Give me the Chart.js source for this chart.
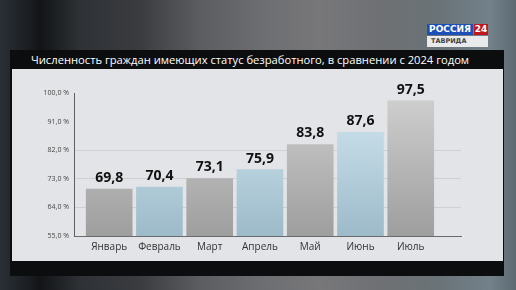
<!DOCTYPE html>
<html>
<head>
<meta charset="utf-8">
<script src="https://cdn.jsdelivr.net/npm/chart.js@4"></script>
<style>
  html, body { margin: 0; padding: 0; }
  body {
    width: 516px; height: 290px; position: relative; overflow: hidden;
    background:
      linear-gradient(90deg, #2a3036 0px, #1a1d21 30px, #121416 40px, #2e3135 80px, #3a3c40 140px, #5b5d61 200px, #6c6d70 260px, #77777a 320px, #6e7073 380px, #6a7378 440px, #73818a 490px, #5d6a72 516px);
    font-family: "Open Sans", sans-serif;
  }
  .frame { position: absolute; left: 10px; top: 50px; width: 494px; height: 226px; background: #0c0d0e; }
  .title { position: absolute; left: 31px; top: 51px; color: #fff; font-size: 11.2px; line-height: 17px; white-space: nowrap; }
  .panel { position: absolute; left: 12px; top: 69px; width: 491px; height: 192px; background: #e3e4e7; }
  .logo1 { position: absolute; left: 427px; top: 24px; width: 46px; height: 11px; background: #1c4fb8; color: #fff; font: bold 9px "DejaVu Sans", sans-serif; line-height: 11px; text-align: center; }
  .logo2 { position: absolute; left: 474px; top: 24px; width: 14px; height: 11px; background: #c3161c; color: #fff; font: bold 9px "DejaVu Sans", sans-serif; line-height: 11px; text-align: center; }
  .logo3 { position: absolute; left: 427px; top: 36px; width: 61px; height: 11px; background: #e9eaec; color: #444; font: bold 6.5px "DejaVu Sans", sans-serif; line-height: 11px; padding-left: 4px; box-sizing: border-box; }
  canvas { position: absolute; left: 0; top: 0; }
</style>
</head>
<body>
<div class="logo1">РОССИЯ</div>
<div class="logo2">24</div>
<div class="logo3">ТАВРИДА</div>
<div class="frame"></div>
<div class="title">Численность граждан имеющих статус безработного, в сравнении с 2024 годом</div>
<div class="panel"><canvas id="chart" width="491" height="192"></canvas></div>
<script>
const months = ['Январь', 'Февраль', 'Март', 'Апрель', 'Май', 'Июнь', 'Июль'];
const values = [69.8, 70.4, 73.1, 75.9, 83.8, 87.6, 97.5];
const yTicks = [55, 64, 73, 82, 91, 100];

const fmt = v => v.toFixed(1).replace('.', ',');

const barFill = (ctx) => {
    const chart = ctx.chart;
    const area = chart.chartArea;
    if (!area) return '#b5b5b5';
    const g = chart.ctx.createLinearGradient(0, area.top, 0, area.bottom);
    if (ctx.dataIndex % 2 === 1) {
        // светло-голубые столбцы
        g.addColorStop(0, '#d3e8f2');
        g.addColorStop(1, '#9dbac9');
    } else {
        g.addColorStop(0, '#d0d0d0');
        g.addColorStop(1, '#9e9e9f');
    }
    return g;
};

const valueLabels = {
    id: 'valueLabels',
    afterDatasetsDraw(chart) {
        const ctx = chart.ctx;
        const meta = chart.getDatasetMeta(0);
        ctx.save();
        ctx.font = 'bold 14px "Open Sans", sans-serif';
        ctx.fillStyle = '#111';
        ctx.textAlign = 'center';
        ctx.textBaseline = 'bottom';
        meta.data.forEach((bar, i) => {
            ctx.fillText(fmt(values[i]), bar.x, bar.y - 4);
        });
        ctx.restore();
    }
};

new Chart(document.getElementById('chart'), {
    type: 'bar',
    data: {
        datasets: [{
            data: values.map((v, i) => ({ x: i, y: v })),
            backgroundColor: barFill,
            barThickness: 46,
            borderWidth: 0
        }]
    },
    options: {
        responsive: false,
        animation: false,
        layout: { padding: { top: 24, right: 42, left: 0, bottom: 0 } },
        plugins: { legend: { display: false }, tooltip: { enabled: false } },
        scales: {
            x: {
                type: 'linear',
                offset: false,
                min: -0.7,
                max: 7,
                afterFit: s => { s.height = 25; },
                afterBuildTicks: s => { s.ticks = months.map((m, i) => ({ value: i })); },
                grid: { display: false, drawTicks: false, offset: false },
                border: { display: true, color: '#6a6b6e', width: 1 },
                ticks: {
                    autoSkip: false,
                    maxRotation: 0,
                    padding: 5,
                    color: '#333',
                    font: { size: 10, family: '"Open Sans", sans-serif' },
                    callback: v => months[v] || ''
                }
            },
            y: {
                min: 55,
                max: 100,
                afterFit: s => { s.width = 62; },
                afterBuildTicks: s => { s.ticks = yTicks.map(v => ({ value: v })); },
                grid: {
                    drawTicks: false,
                    color: c => [64, 73, 82].includes(c.tick.value) ? '#cfd0d4' : 'rgba(0,0,0,0)'
                },
                border: { display: true, color: '#5e5f62', width: 1 },
                ticks: {
                    padding: 5,
                    color: '#444',
                    font: { size: 7, family: '"Open Sans", sans-serif' },
                    callback: v => fmt(v) + ' %'
                }
            }
        }
    },
    plugins: [valueLabels]
});
</script>
</body>
</html>
